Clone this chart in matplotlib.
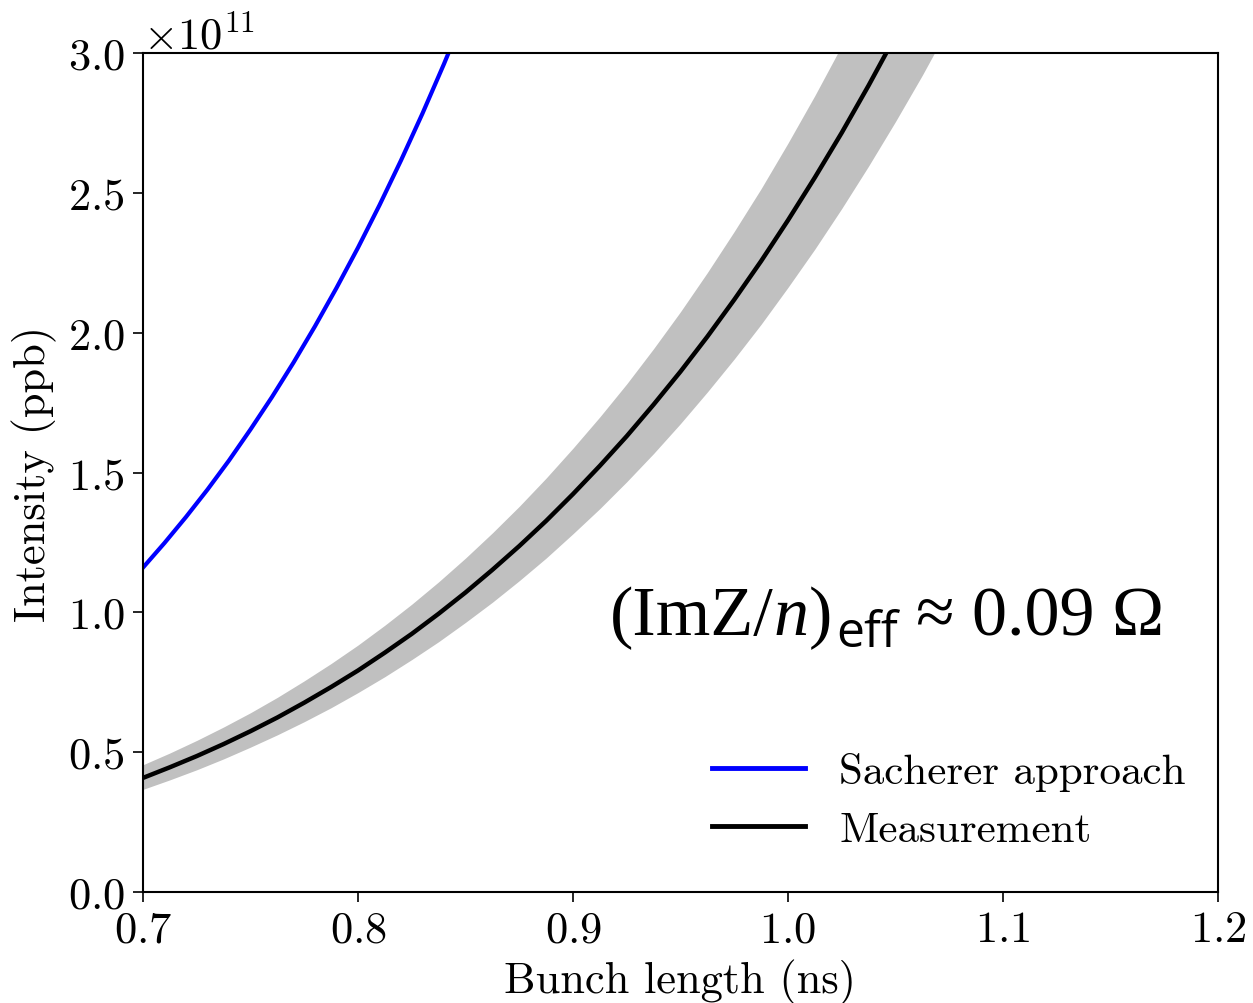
import numpy as np
import matplotlib
matplotlib.use("Agg")
import matplotlib.pyplot as plt

plt.rcParams['font.family'] = 'serif'
plt.rcParams['font.serif'] = ['cmr10']
plt.rcParams['mathtext.fontset'] = 'cm'
plt.rcParams['axes.formatter.use_mathtext'] = True
plt.rcParams['font.size'] = 32

# Sacherer approach (intensity in units of 1e11 ppb)
x_sach = [0.70, 0.71, 0.72, 0.73, 0.74, 0.75, 0.76, 0.77,
          0.78, 0.79, 0.80, 0.81, 0.82, 0.83, 0.84, 0.85]
n_sach = [1.160, 1.248, 1.341, 1.439, 1.543, 1.654, 1.770, 1.893,
          2.023, 2.160, 2.304, 2.456, 2.616, 2.784, 2.961, 3.147]

# Measurement with its uncertainty band
x_meas = [0.7000, 0.7125, 0.7250, 0.7375, 0.7500, 0.7625, 0.7750, 0.7875,
          0.8000, 0.8125, 0.8250, 0.8375, 0.8500, 0.8625, 0.8750, 0.8875,
          0.9000, 0.9125, 0.9250, 0.9375, 0.9500, 0.9625, 0.9750, 0.9875,
          1.0000, 1.0125, 1.0250, 1.0375, 1.0500, 1.0625, 1.0750]
n_meas = [0.408, 0.446, 0.486, 0.529, 0.575, 0.624, 0.677, 0.733,
          0.792, 0.856, 0.923, 0.995, 1.071, 1.152, 1.237, 1.327,
          1.423, 1.524, 1.630, 1.743, 1.861, 1.986, 2.118, 2.256,
          2.402, 2.555, 2.715, 2.884, 3.061, 3.246, 3.441]
n_hi = [0.455, 0.497, 0.542, 0.590, 0.641, 0.696, 0.755, 0.817,
        0.883, 0.954, 1.029, 1.109, 1.194, 1.284, 1.379, 1.480,
        1.587, 1.699, 1.817, 1.943, 2.075, 2.215, 2.362, 2.515,
        2.678, 2.848, 3.027, 3.216, 3.413, 3.619, 3.837]
n_lo = [0.367, 0.401, 0.437, 0.476, 0.518, 0.562, 0.609, 0.659,
        0.713, 0.770, 0.831, 0.895, 0.964, 1.036, 1.113, 1.194,
        1.281, 1.371, 1.467, 1.568, 1.675, 1.788, 1.906, 2.030,
        2.162, 2.299, 2.444, 2.596, 2.755, 2.921, 3.097]

scale = 1e11

fig = plt.figure(figsize=(12.53, 10.04), dpi=100)
ax = fig.add_axes([143/1253, 111/1004, 1075/1253, 839/1004])

ax.fill_between(x_meas, np.array(n_lo)*scale, np.array(n_hi)*scale,
                color='#c0c0c0', lw=0)
ax.plot(x_sach, np.array(n_sach)*scale, color='blue', lw=3, label='Sacherer approach')
ax.plot(x_meas, np.array(n_meas)*scale, color='black', lw=3.2, label='Measurement')

ax.set_xlim(0.7, 1.2)
ax.set_ylim(0, 3.0e11)
ax.set_xticks(np.arange(0.7, 1.21, 0.1))
ax.set_yticks(np.arange(0, 3.01e11, 0.5e11))
ax.tick_params(length=7, width=1.2, pad=6)
for s in ax.spines.values():
    s.set_linewidth(1.5)

ax.set_xlabel('Bunch length (ns)', labelpad=6)
ax.set_ylabel('Intensity (ppb)', labelpad=8)

leg = ax.legend(loc='lower right', frameon=False, bbox_to_anchor=(1.006, 0.005),
                fontsize=31, handlelength=2.16, handletextpad=0.79,
                labelspacing=0.47)
for ln in leg.get_lines():
    ln.set_linewidth(3.5)

# annotation built from pieces (upright, italic n, sans subscript)
fp = dict(family='Liberation Serif', fontsize=50.5)
t1 = ax.text(0.4344, 0.3075, '(ImZ/', transform=ax.transAxes, va='baseline', **fp)
t2 = ax.annotate('n', xy=(1, 0), xycoords=t1, va='bottom', ha='left',
                 style='italic', **fp)
t3 = ax.annotate(')', xy=(1, 0), xycoords=t2, va='bottom', ha='left', **fp)
t4 = ax.annotate('eff', xy=(1, 0), xycoords=t3, xytext=(3, -6.5),
                 textcoords='offset points', va='bottom', ha='left',
                 family='Open Sans', fontsize=36)
t5 = ax.annotate('≈ 0.09 Ω', xy=(1, 0), xycoords=(t4, t3), xytext=(13, 0),
                 textcoords='offset points', va='bottom', ha='left', **fp)

fig.savefig('out.png', dpi=100)
